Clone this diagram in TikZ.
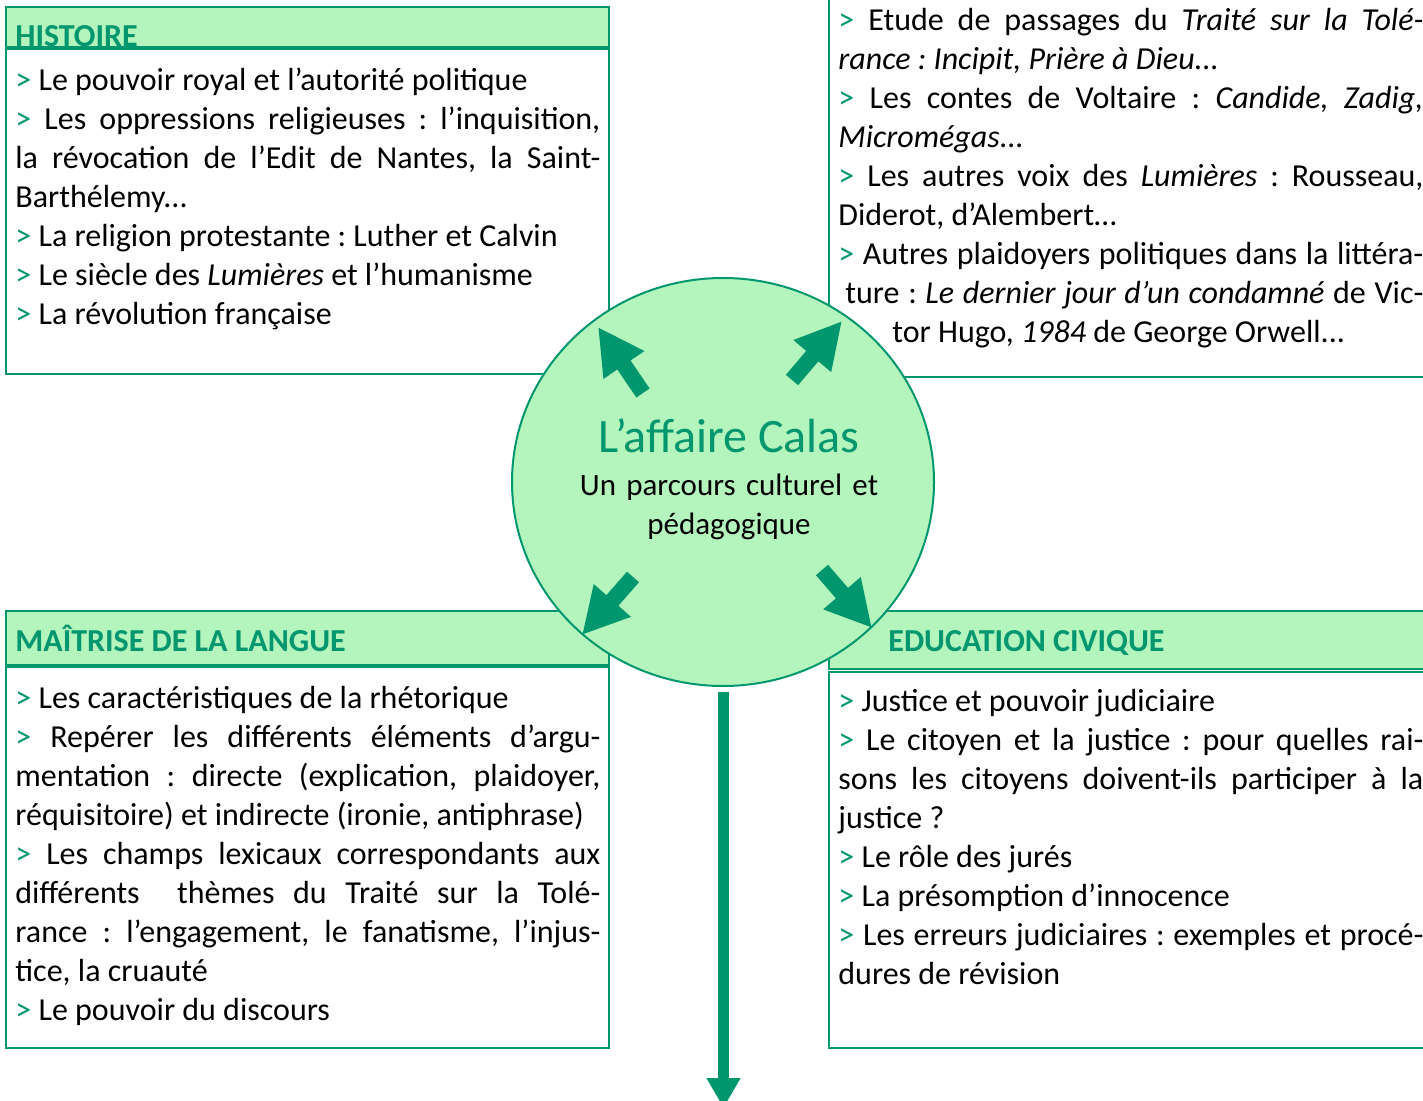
\documentclass[tikz,border=0pt]{standalone}
\usepackage{fontspec}
\setmainfont{Carlito}
\usetikzlibrary{arrows.meta,shapes.geometric}

\definecolor{vert}{RGB}{0,150,110}
\definecolor{vertclair}{RGB}{179,245,188}
\newlength{\colw}
\setlength{\colw}{292.5pt}
\newcommand{\puce}{\textcolor{vert}{>}}
\newcommand{\jl}[1]{\makebox[\colw][s]{#1}}
\frenchspacing

\begin{document}
\begin{tikzpicture}[x=0.5pt,y=-0.5pt]
    \tikzset{header/.style = {draw=vert, line width=1pt, fill=vertclair}}
    \tikzset{frame/.style = {draw=vert, line width=1pt, fill=white}}
    \tikzset{title/.style = {anchor=base west, inner sep=0pt, text=vert, font=\fontsize{16}{19.5}\selectfont\bfseries}}
    \tikzset{body/.style = {anchor=base west, inner sep=0pt, text width=\colw, align=justify, font=\fontsize{16}{19.5}\selectfont}}
    \tikzset{hub/.style = {ellipse, draw=vert, line width=1pt, fill=vertclair, minimum width=211pt, minimum height=204pt}}
    \tikzset{bigarrow/.style = {draw=vert, line width=8pt, -{Triangle[width=23pt,length=23pt]}}}
    \tikzset{downarrow/.style = {draw=vert, line width=5.5pt, -{Triangle[width=16pt,length=15pt]}}}
    \useasboundingbox (0,0) rectangle (1423,1101);
    \clip (0,0) rectangle (1423,1101);
    % boxes
    \draw[header] (6,7) rectangle (609,47);
    \node[title] (histoire) at (15,47) {HISTOIRE};
    \draw[frame] (6,49) rectangle (609,374);
    \draw[frame] (829,-10) rectangle (1440,377);
    \draw[header] (6,611) rectangle (609,665);
    \draw[frame] (6,667) rectangle (609,1048);
    \draw[header] (829,611) rectangle (1440,669);
    \draw[frame] (829,672) rectangle (1440,1048);
    \node[title] (langue) at (15,651) {MAÎTRISE DE LA LANGUE};
    \node[title] (civique) at (888,651) {EDUCATION CIVIQUE};
    % texts
    \node[body] (thist) at (15,91) {\puce\ Le pouvoir royal et l’autorité politique\\
        \jl{\puce\ Les oppressions religieuses : l’inquisition,}\\
        \jl{la révocation de l’Edit de Nantes, la Saint-}\\
        Barthélemy...\\
        \puce\ La religion protestante : Luther et Calvin\\
        \puce\ Le siècle des \textit{Lumières} et l’humanisme\\
        \puce\ La révolution française};
    \node[body] (tlettres) at (838,31) {\jl{\puce\ Etude de passages du \textit{Traité sur la Tolé-}}\\
        \textit{rance : Incipit, Prière à Dieu...}\\
        \jl{\puce\ Les contes de Voltaire : \textit{Candide, Zadig,}}\\
        \textit{Micromégas...}\\
        \jl{\puce\ Les autres voix des \textit{Lumières} : Rousseau,}\\
        Diderot, d’Alembert…\\
        \jl{\puce\ Autres plaidoyers politiques dans la littéra-}\\
        \hspace*{3.5pt}\makebox[\dimexpr\colw-3.5pt][s]{ture : \textit{Le dernier jour d’un condamné} de Vic-}\\
        \hspace*{27pt}tor Hugo, \textit{1984} de George Orwell...};
    \node[body] (tlangue) at (15,708) {\puce\ Les caractéristiques de la rhétorique\\
        \jl{\puce\ Repérer les différents éléments d’argu-}\\
        \jl{mentation : directe (explication, plaidoyer,}\\
        réquisitoire) et indirecte (ironie, antiphrase)\\
        \jl{\puce\ Les champs lexicaux correspondants aux}\\
        \jl{différents\ \ thèmes du Traité sur la Tolé-}\\
        \jl{rance : l’engagement, le fanatisme, l’injus-}\\
        tice, la cruauté\\
        \puce\ Le pouvoir du discours};
    \node[body] (tcivique) at (838,711) {\puce\ Justice et pouvoir judiciaire\\
        \jl{\puce\ Le citoyen et la justice : pour quelles rai-}\\
        \jl{sons les citoyens doivent-ils participer à la}\\
        justice ?\\
        \puce\ Le rôle des jurés\\
        \puce\ La présomption d’innocence\\
        \jl{\puce\ Les erreurs judiciaires : exemples et procé-}\\
        dures de révision};
    % centre
    \node[hub] (calas) at (723,482) {};
    \node[anchor=base, inner sep=0pt, text=vert, font=\fontsize{24}{29}\selectfont] (titre) at (729,452) {L’affaire Calas};
    \node[anchor=base, inner sep=0pt, text width=180pt, align=center, font=\fontsize{15.5}{19.5}\selectfont] (sous) at (729,495) {Un parcours culturel et\\pédagogique};
    % arrows
    \coordinate (nwA) at (643,393);
    \coordinate (nwB) at (598,327);
    \coordinate (neA) at (792,380);
    \coordinate (neB) at (842,321);
    \coordinate (swA) at (633,577);
    \coordinate (swB) at (582,635);
    \coordinate (seA) at (822,570);
    \coordinate (seB) at (872,628);
    \coordinate (basA) at (723.5,692);
    \coordinate (basB) at (723.5,1108);
    \draw[bigarrow] (nwA) -- (nwB);
    \draw[bigarrow] (neA) -- (neB);
    \draw[bigarrow] (swA) -- (swB);
    \draw[bigarrow] (seA) -- (seB);
    \draw[downarrow] (basA) -- (basB);
\end{tikzpicture}
\end{document}
